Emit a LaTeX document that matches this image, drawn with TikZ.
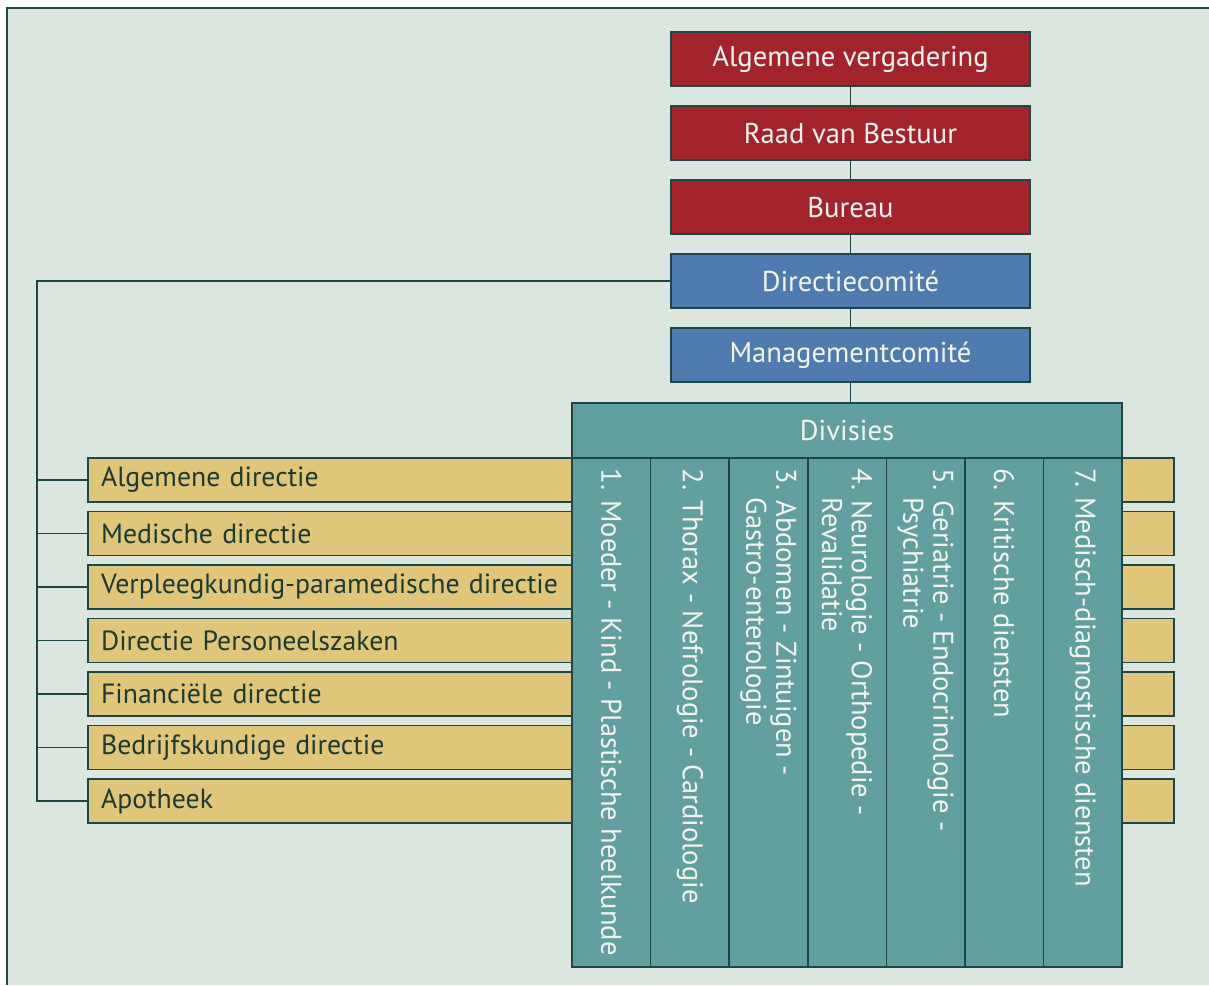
\documentclass[tikz,border=0pt]{standalone}
\usepackage{fontspec}
\setmainfont{PT Sans}
\usetikzlibrary{positioning}
\definecolor{bgcol}{HTML}{DAE6DE}
\definecolor{linecol}{HTML}{1D4744}
\definecolor{redfill}{HTML}{A3232D}
\definecolor{bluefill}{HTML}{4F7BAE}
\definecolor{tealfill}{HTML}{62A0A0}
\definecolor{yellowfill}{HTML}{DFC67B}
\definecolor{darktext}{HTML}{1C3A2E}
\definecolor{lighttext}{HTML}{F3F3EF}

\begin{document}
\begin{tikzpicture}[x=0.02cm, y=-0.02cm,
  box/.style={draw=linecol, line width=0.9pt, rectangle, inner sep=0pt,
              font=\fontsize{16.3}{18}\selectfont},
  topbox/.style={box, fill=redfill, text=lighttext,
                 minimum width=7.18cm, minimum height=1.08cm},
  combox/.style={topbox, fill=bluefill},
  divhead/.style={box, fill=tealfill, text=lighttext,
                  minimum width=11cm, minimum height=1.1cm},
  divcol/.style={box, fill=tealfill, minimum width=1.5714cm, minimum height=10.18cm},
  divtext/.style={rotate=-90, anchor=west, align=left, inner sep=0pt,
                  text=lighttext, font=\fontsize{16.2}{17}\selectfont},
  bar/.style={box, fill=yellowfill, text=darktext, align=left,
              font=\fontsize{15.8}{18}\selectfont,
              text width=21.2cm, inner xsep=0.26cm, minimum height=0.88cm},
  conn/.style={draw=linecol, line width=1.1pt}
]
\useasboundingbox (0,0) rectangle (1209,985);
\fill[bgcol] (7,8) rectangle (1209,985);
\draw[linecol, line width=1.4pt] (7,985) -- (7,8) -- (1209,8);

\foreach \i/\txt in {1/Algemene directie, 2/Medische directie,
    3/Verpleegkundig-paramedische directie, 4/Directie Personeelszaken,
    5/Financiële directie, 6/Bedrijfskundige directie, 7/Apotheek}
  \node[bar] (d\i) at (631,{480+53.5*(\i-1)}) {\txt};

\node[divhead] (div) at (847,430.5) {Divisies};
\foreach \i/\txt in {1/{1. Moeder - Kind - Plastische heelkunde},
    2/{2. Thorax - Nefrologie - Cardiologie},
    3/{3. Abdomen - Zintuigen -\\\hphantom{3.\ }Gastro-enterologie},
    4/{4. Neurologie - Orthopedie -\\\hphantom{4.\ }Revalidatie},
    5/{5. Geriatrie - Endocrinologie -\\\hphantom{5.\ }Psychiatrie},
    6/{6. Kritische diensten},
    7/{7. Medisch-diagnostische diensten}}
{
  \node[divcol] (c\i) at ({572+78.571*(\i-0.5)},712.5) {};
  \node[divtext] (t\i) at ([yshift=-0.22cm]c\i.north) {\txt};
}

\node[topbox] (av) at (850.5,59) {Algemene vergadering};
\node[topbox, below=0.37cm of av]  (rvb) {Raad van Bestuur};
\node[topbox, below=0.37cm of rvb] (bur) {Bureau};
\node[combox, below=0.37cm of bur] (dc)  {Directiecomité};
\node[combox, below=0.37cm of dc]  (mc)  {Managementcomité};
\coordinate (rail) at (37,0);

\draw[conn] (av) -- (rvb);
\draw[conn] (rvb) -- (bur);
\draw[conn] (bur) -- (dc);
\draw[conn] (dc) -- (mc);
\draw[conn] (mc.south) -- (mc.south |- div.north);
\draw[conn] (dc.west) -- (dc.west -| rail) |- (d7.west);
\foreach \i in {1,...,6}
  \draw[conn] (d\i.west) -- (d\i.west -| rail);
\end{tikzpicture}
\end{document}
